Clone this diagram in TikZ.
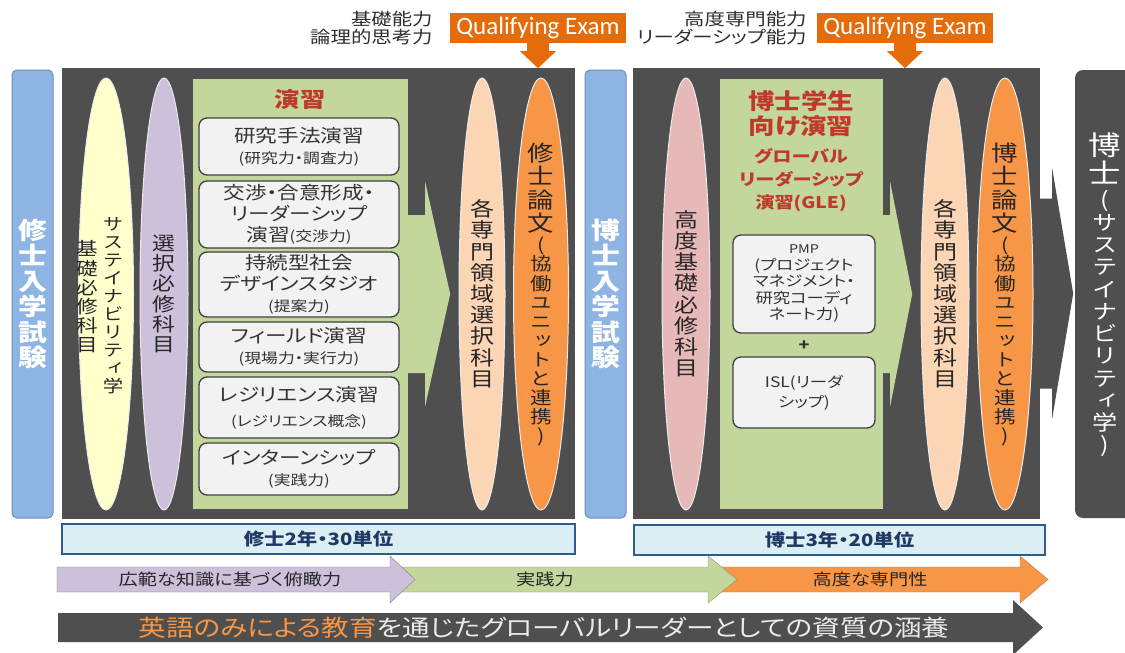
\documentclass[tikz,border=0pt]{standalone}
\usepackage{fontspec}
\usepackage{graphicx}
\usetikzlibrary{shapes.geometric}
\usetikzlibrary{positioning}

\newfontfamily\jp[FakeStretch=1.2,RawFeature=+palt]{Noto Sans CJK JP}
\newfontfamily\jpv[RawFeature=+vert]{Noto Sans CJK JP}
\newfontfamily\qefont{Carlito}

% vertical (tategaki) text: one glyph per row, widened like the slide
\ExplSyntaxOn
\NewDocumentCommand{\tatechars}{m}{
  \tl_map_inline:nn {#1} { \hbox_to_wd:nn {0pt} { \hss \vrule~height .9em depth .16em width 0pt ##1 \hss } }
}
\ExplSyntaxOff
\newcommand{\tate}[1]{\scalebox{1.2}[1]{\vbox{\offinterlineskip\jpv#1}}}
\newcommand{\subline}{\fontsize{14}{16}\selectfont}

\definecolor{panelgray}{HTML}{4F4F4F}
\definecolor{entryblue}{HTML}{8DB4E2}
\definecolor{entryline}{HTML}{6A8EBF}
\definecolor{ellyellow}{HTML}{FFFFCC}
\definecolor{ellpurple}{HTML}{CCC0DA}
\definecolor{ensgreen}{HTML}{C3D69B}
\definecolor{boxwhite}{HTML}{F2F2F2}
\definecolor{ellpeach}{HTML}{FCD5B5}
\definecolor{ellorange}{HTML}{F79646}
\definecolor{ellpink}{HTML}{E6B9B8}
\definecolor{qeorange}{HTML}{E46C0A}
\definecolor{unitfill}{HTML}{DBEEF4}
\definecolor{unitline}{HTML}{2F5C8F}
\definecolor{unittext}{HTML}{1F3864}
\definecolor{titlered}{HTML}{C0392B}
\definecolor{txtgray}{HTML}{262626}

\begin{document}
\begin{tikzpicture}[x=1pt,y=-1pt,
  panel/.style={fill=panelgray, minimum width=#1, minimum height=451, inner sep=0},
  entry/.style={draw=entryline, fill=entryblue, rounded corners=5, line width=1, minimum width=41, minimum height=448, inner sep=0, text=white},
  degree/.style={fill=panelgray, rounded corners=8, minimum width=60, minimum height=448, inner sep=0, text=white},
  ell/.style={ellipse, draw=white!92!black, line width=1, minimum width=#1, minimum height=432, inner sep=0, text=txtgray},
  ens/.style={fill=ensgreen, minimum width=#1, minimum height=430, inner sep=0},
  work/.style={draw=black!75, fill=boxwhite, rounded corners=8, line width=1.3, minimum width=#1, inner sep=0, align=center, text=black!80, font=\jp\fontsize{18}{21}\selectfont},
  qe/.style={fill=qeorange, minimum width=176, minimum height=30, inner sep=0, text=white, font=\qefont\fontsize{25}{27}\selectfont},
  toplab/.style={align=right, inner sep=0, text=black!82, font=\jp\fontsize{17}{18}\selectfont},
  redtitle/.style={align=center, inner sep=0, text=titlered, font=\jp\bfseries\fontsize{21}{25}\selectfont},
  unit/.style={draw=unitline, fill=unitfill, line width=1.5, minimum width=#1, minimum height=30, inner sep=0, text=unittext, font=\jp\bfseries\fontsize{17}{19}\selectfont},
  flowtxt/.style={inner sep=0, text=black!85, font=\jp\fontsize{16}{18}\selectfont}]
\useasboundingbox (0,0) rectangle (1125,653);

% dark panels
\node[panel=513] (panA) at (318.5,293.5) {};
\node[panel=407] (panB) at (836.5,293.5) {};
\fill[panelgray] (panB.east) ++(-1,-95) -- ++(13,0) -- ++(0,-30) -- ++(21,125) -- ++(-21,125) -- ++(0,-30) -- ++(-13,0) -- cycle;

% entrance exams and degree
\node[entry] (entA) at (32.5,294) {\tate{\bfseries\fontsize{24}{24}\selectfont\tatechars{修士入学試験}}};
\node[entry] (entB) at (605.5,294) {\tate{\bfseries\fontsize{24}{24}\selectfont\tatechars{博士入学試験}}};
\node[degree] (deg) at (1105,294) {\tate{\fontsize{27}{27}\selectfont\tatechars{博士}\fontsize{21}{21}\selectfont\tatechars{(サステイナビリティ学)}}};

% qualifying exams
\node[qe] (qeA) at (538,28) {Qualifying Exam};
\fill[qeorange] (qeA.south) ++(-11,-1) -- ++(0,9) -- ++(-7,0) -- ++(18,17) -- ++(18,-17) -- ++(-7,0) -- ++(0,-9) -- cycle;
\node[toplab, left=17pt of qeA] (capA) {基礎能力\\論理的思考力};
\node[qe] (qeB) at (905,28) {Qualifying Exam};
\fill[qeorange] (qeB.south) ++(-11,-1) -- ++(0,9) -- ++(-7,0) -- ++(18,17) -- ++(18,-17) -- ++(-7,0) -- ++(0,-9) -- cycle;
\node[toplab, left=10pt of qeB] (capB) {高度専門能力\\リーダーシップ能力};

% master course
\node[ell=55, fill=ellyellow] (ellY) at (106,294) {};
\node[text=txtgray] (ellYa) at (113,305) {\tate{\fontsize{17}{17}\selectfont\tatechars{サステイナビリティ学}}};
\node[text=txtgray] (ellYb) at (87,297) {\tate{\fontsize{18}{18}\selectfont\tatechars{基礎必修科目}}};
\node[ell=48, fill=ellpurple] (ellP) at (164,294) {\tate{\fontsize{19}{19}\selectfont\tatechars{選択必修科目}}};

\node[ens=215] (ensA) at (300.5,294) {};
\fill[ensgreen] (ensA.east) ++(-1,-79) -- ++(18,0) -- ++(0,-33) -- ++(25,112) -- ++(-25,112) -- ++(0,-33) -- ++(-18,0) -- cycle;
\node[redtitle] (tA) at (300,100) {演習};
\node[work=200, minimum height=57] (w1) at (299,146.5) {研究手法演習\\{\subline(研究力・調査力)}};
\node[work=200, minimum height=67] (w2) at (299,214.5) {交渉・合意形成・\\リーダーシップ\\演習{\subline(交渉力)}};
\node[work=200, minimum height=65] (w3) at (299,284.5) {持続型社会\\デザインスタジオ\\{\subline(提案力)}};
\node[work=200, minimum height=50] (w4) at (299,347) {フィールド演習\\{\subline(現場力・実行力)}};
\node[work=200, minimum height=61] (w5) at (299,407.5) {レジリエンス演習\\[4pt]{\subline(レジリエンス概念)}};
\node[work=200, minimum height=52] (w6) at (299,469) {インターンシップ\\{\subline(実践力)}};

\node[ell=46, fill=ellpeach] (ellPeA) at (482,294) {\tate{\fontsize{20}{20}\selectfont\tatechars{各専門領域選択科目}}};
\node[ell=55, fill=ellorange] (ellOA) at (541,294) {\tate{\fontsize{22}{22}\selectfont\tatechars{修士論文}\fontsize{18}{18}\selectfont\tatechars{(協働ユニットと連携)}}};

% doctoral course
\node[ell=48, fill=ellpink] (ellK) at (686,294) {\tate{\fontsize{20}{20}\selectfont\tatechars{高度基礎必修科目}}};
\node[ens=163] (ensB) at (801.5,294) {};
\fill[ensgreen] (ensB.east) ++(-1,-79) -- ++(8,0) -- ++(0,-33) -- ++(22,112) -- ++(-22,112) -- ++(0,-33) -- ++(-8,0) -- cycle;
\node[redtitle, font=\jp\bfseries\fontsize{22}{25}\selectfont] (tB) at (801,113.5) {博士学生\\向け演習};
\node[redtitle, font=\jp\bfseries\fontsize{16}{23}\selectfont] (tGLE) at (801,180) {グローバル\\リーダーシップ\\演習(GLE)};
\node[work=142, minimum height=98, font=\jp\fontsize{14.5}{16.5}\selectfont] (pmp) at (804,284) {{\fontsize{12}{13}\selectfont PMP}\\(プロジェクト\\マネジメント・\\研究コーディ\\ネート力)};
\node[inner sep=0, text=black!80, font=\jp\bfseries\fontsize{15}{15}\selectfont] (plus) at (804,346) {+};
\node[work=142, minimum height=71, font=\jp\fontsize{14.5}{20}\selectfont] (isl) at (804,392.5) {ISL(リーダ\\シップ)};

\node[ell=48, fill=ellpeach] (ellPeB) at (945,294) {\tate{\fontsize{20}{20}\selectfont\tatechars{各専門領域選択科目}}};
\node[ell=56, fill=ellorange] (ellOB) at (1005,294) {\tate{\fontsize{22}{22}\selectfont\tatechars{博士論文}\fontsize{18}{18}\selectfont\tatechars{(協働ユニットと連携)}}};

% years and credits
\node[unit=513] (unA) at (318.5,539) {修士2年・30単位};
\node[unit=411] (unB) at (839.5,540) {博士3年・20単位};

% abilities
\filldraw[draw=ellorange!80!black, fill=ellorange] (712,567) -- (1020,567) -- (1020,556) -- (1048,579.5) -- (1020,603) -- (1020,592) -- (712,592) -- cycle;
\filldraw[draw=ensgreen!70!black, fill=ensgreen] (395,567) -- (708,567) -- (708,556) -- (737,579.5) -- (708,603) -- (708,592) -- (395,592) -- cycle;
\filldraw[draw=black!50, fill=ellpurple] (57,567) -- (390,567) -- (390,556) -- (415,579.5) -- (390,603) -- (390,592) -- (57,592) -- cycle;
\node[flowtxt] (abPu) at (230,579.5) {広範な知識に基づく俯瞰力};
\node[flowtxt] (abGr) at (545,579.5) {実践力};
\node[flowtxt] (abOr) at (870,579.5) {高度な専門性};

% english only
\fill[panelgray] (58,613) -- (1013,613) -- (1013,600) -- (1043,627.5) -- (1013,655) -- (1013,642) -- (58,642) -- cycle;
\node[inner sep=0, text=white!92!black, font=\jp\fontsize{23}{25}\selectfont] (motto) at (544,627.5) {{\color{ellorange}英語のみによる教育}を通じたグローバルリーダーとしての資質の涵養};
\end{tikzpicture}
\end{document}
